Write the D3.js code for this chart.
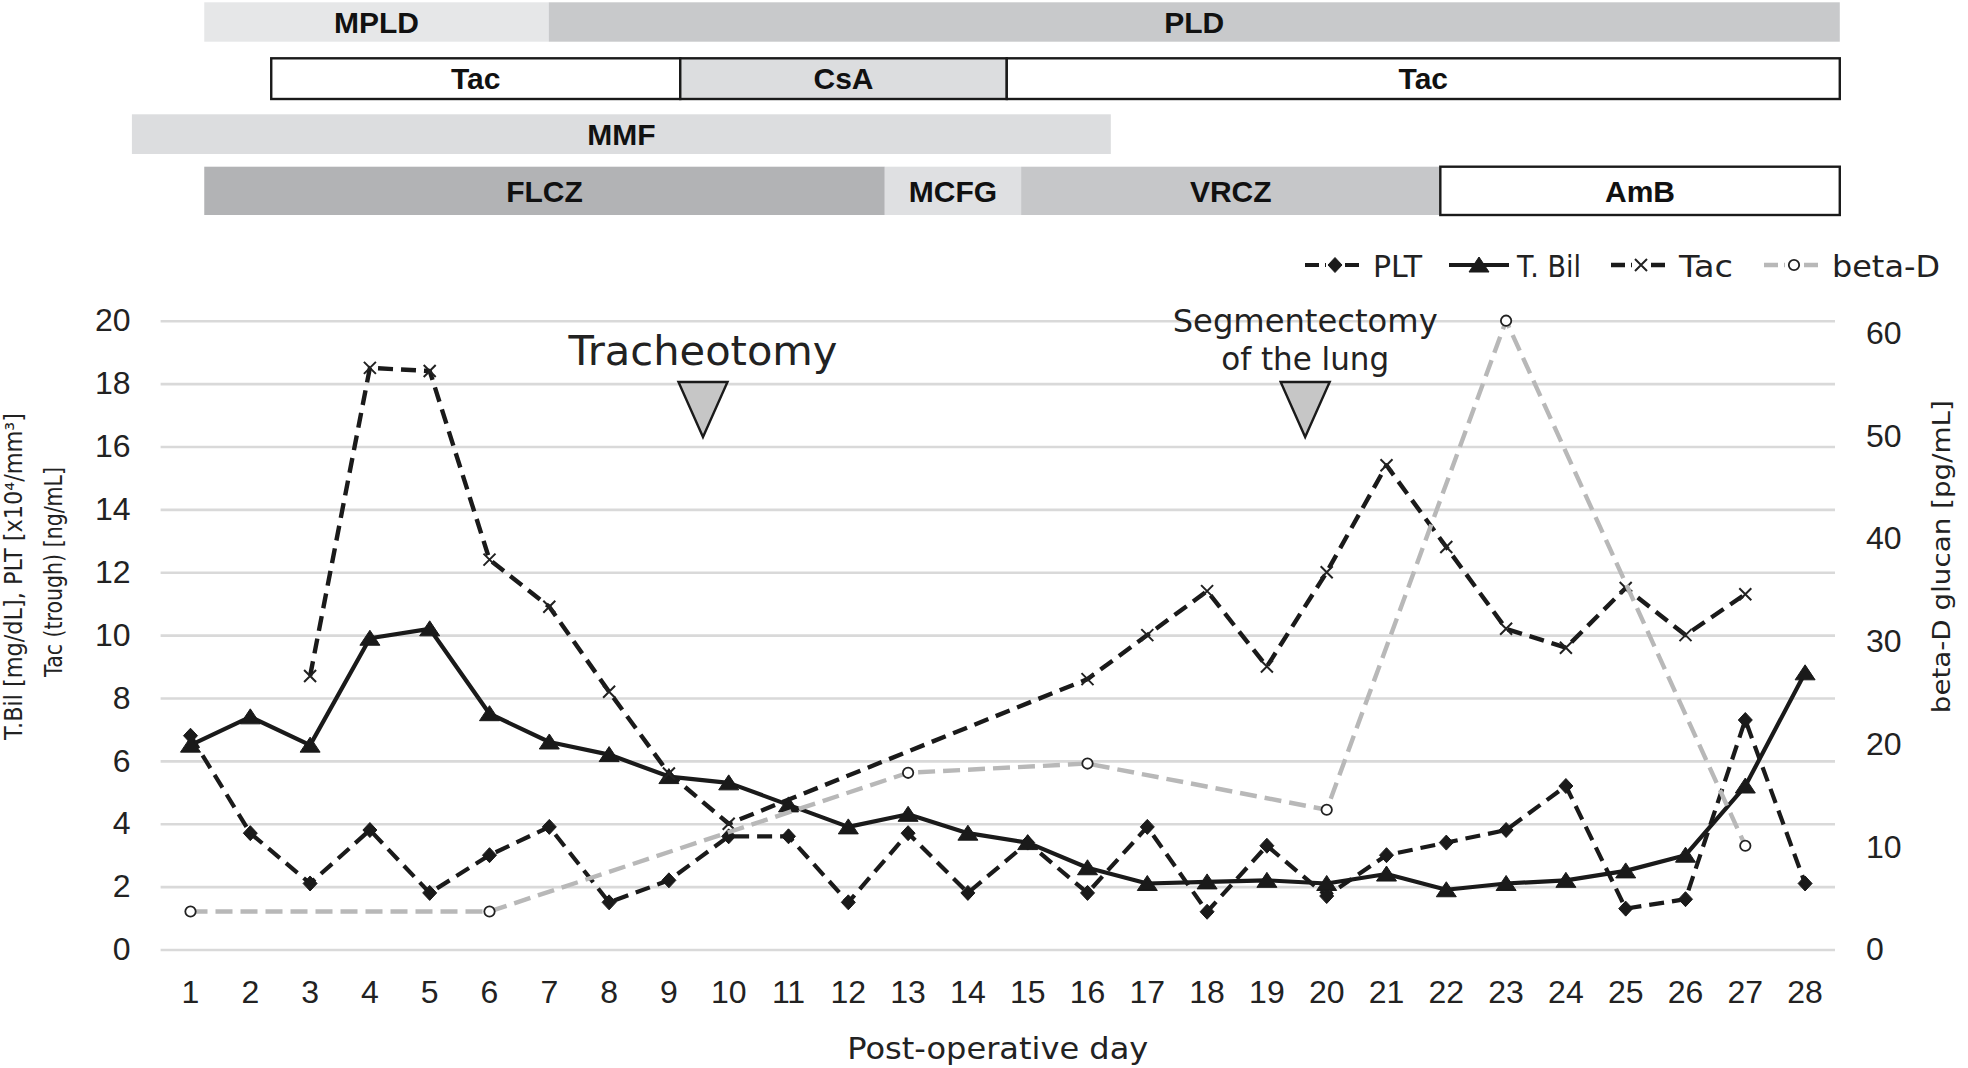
<!DOCTYPE html>
<html><head><meta charset="utf-8">
<script src="https://cdn.jsdelivr.net/npm/d3@7"></script>
<style>
html,body{margin:0;padding:0;background:#fff;}
svg{display:block;}
</style></head>
<body>
<svg id="chart" width="1968" height="1068"></svg>
<script>
// ---------- DATA ----------
const days = ["1","2","3","4","5","6","7","8","9","10","11","12","13","14","15","16","17","18","19","20","21","22","23","24","25","26","27","28"];
const plt  = [6.8,3.7,2.1,3.8,1.8,3.0,3.9,1.5,2.2,3.6,3.6,1.5,3.7,1.8,3.4,1.8,3.9,1.2,3.3,1.7,3.0,3.4,3.8,5.2,1.3,1.6,7.3,2.1];
const tbil = [6.5,7.4,6.5,9.9,10.2,7.5,6.6,6.2,5.5,5.3,4.6,3.9,4.3,3.7,3.4,2.6,2.1,2.15,2.2,2.1,2.4,1.9,2.1,2.2,2.5,3.0,5.2,8.8];
const tac  = [null,null,8.7,18.5,18.4,12.4,10.9,8.2,5.6,4.0,null,null,null,null,null,8.6,10.0,11.4,9.0,12.0,15.4,12.8,10.2,9.6,11.5,10.0,11.3,null];
const betaD= [3.7,null,null,null,null,3.7,null,null,null,null,null,null,17.2,null,null,18.1,null,null,null,13.6,null,null,61.2,null,null,null,10.1,null];
const leftTicks  = [0,2,4,6,8,10,12,14,16,18,20];
const rightTicks = [0,10,20,30,40,50,60];
const seriesNames = ["PLT","T. Bil","Tac","beta-D"];
const xTitle = "Post-operative day";
const yLeftTitle = ["T.Bil [mg/dL], PLT [x10\u2074/mm\u00B3]","Tac (trough) [ng/mL]"];
const yRightTitle = "beta-D glucan [pg/mL]";
// treatment periods (in post-operative day units)
const rowImmuno1 = [{label:"MPLD",start:1.23,end:6.99},{label:"PLD",start:6.99,end:28.58}];
const rowImmuno2 = [{label:"Tac",start:2.35,end:9.19},{label:"CsA",start:9.19,end:14.65},{label:"Tac",start:14.65,end:28.58}];
const rowImmuno3 = [{label:"MMF",start:0.02,end:16.39}];
const rowAntifungal = [{label:"FLCZ",start:1.23,end:12.61},{label:"MCFG",start:12.61,end:14.89},{label:"VRCZ",start:14.89,end:21.9},{label:"AmB",start:21.9,end:28.58}];
const eventLabels = [["Tracheotomy"],["Segmentectomy","of the lung"]];
const eventDays = [9.57,19.64];

// ---------- LAYOUT / STYLE ----------
const M = {left:160.6, right:1835, top:320.7, bottom:949.5};
const numFont = "'Liberation Sans', Arial, sans-serif";
const wordFont = "'DejaVu Sans', sans-serif";
const boldFont = "'Liberation Sans', Arial, sans-serif";
const svg = d3.select("#chart");

const x = d3.scaleBand().domain(days).range([M.left, M.right]);
const xc = d => x(d) + x.bandwidth()/2;
const xDay = d3.scaleLinear().domain([0.5, 28.5]).range([M.left, M.right]);
const yL = d3.scaleLinear().domain([0,20]).range([M.bottom, M.top]);
const yR = d3.scaleLinear().domain([0,61.2]).range([M.bottom, M.top]);

// ---------- Treatment bars ----------
const rows = [
  {segs:rowImmuno1, y0:2.3, y1:41.7},
  {segs:rowImmuno2, y0:58.3, y1:99},
  {segs:rowImmuno3, y0:114.3, y1:154},
  {segs:rowAntifungal, y0:166.7, y1:215}
];
const fillOf = {"MPLD":"#e6e7e8","PLD":"#c8c9cb","Tac":"#ffffff","CsA":"#dcdddf","MMF":"#dcdddf","FLCZ":"#b2b3b5","MCFG":"#dfe0e2","VRCZ":"#c6c7c9","AmB":"#ffffff"};
const boxed = new Set(["Tac","CsA","AmB"]);
const gBars = svg.append("g");
rows.forEach(r => {
  const g = gBars.append("g");
  g.selectAll("rect").data(r.segs).join("rect")
    .attr("x", d => xDay(d.start)).attr("y", r.y0)
    .attr("width", d => xDay(d.end) - xDay(d.start)).attr("height", r.y1 - r.y0)
    .attr("fill", d => fillOf[d.label])
    .attr("stroke", d => boxed.has(d.label) ? "#1a1a1a" : "none")
    .attr("stroke-width", 2.4);
  g.selectAll("text").data(r.segs).join("text")
    .attr("x", d => (xDay(d.start) + xDay(d.end))/2)
    .attr("y", (r.y0 + r.y1)/2 + 10.8)
    .attr("text-anchor","middle")
    .attr("font-family", boldFont).attr("font-weight","bold").attr("font-size", 30)
    .attr("fill","#111")
    .text(d => d.label);
});

// ---------- Gridlines + axes ----------
const gL = svg.append("g").attr("transform", `translate(${M.left},0)`)
  .call(d3.axisLeft(yL).tickValues(leftTicks).tickSize(-(M.right - M.left)).tickPadding(30));
gL.select(".domain").remove();
gL.selectAll(".tick line").attr("stroke","#d9d9d9").attr("stroke-width",2.6);
gL.selectAll(".tick text").attr("font-family",numFont).attr("font-size",32).attr("fill","#222");

const gR = svg.append("g").attr("transform", `translate(${M.right},0)`)
  .call(d3.axisRight(yR).tickValues(rightTicks).tickSize(0).tickPadding(31));
gR.select(".domain").remove();
gR.selectAll(".tick text").attr("font-family",numFont).attr("font-size",32).attr("fill","#222");

const gX = svg.append("g").attr("transform", `translate(0,${M.bottom})`)
  .call(d3.axisBottom(x).tickSize(0).tickPadding(30.5));
gX.select(".domain").remove();
gX.selectAll(".tick text").attr("font-family",numFont).attr("font-size",32).attr("fill","#222");

// ---------- Axis titles ----------
svg.append("text").attr("x",(M.left+M.right)/2).attr("y",1059)
  .attr("text-anchor","middle").attr("font-family",wordFont).attr("font-size",31)
  .attr("textLength",301).attr("lengthAdjust","spacingAndGlyphs").attr("fill","#222").text(xTitle);
const leftTitlePos = [{x:22,y:576.5,len:327},{x:62,y:572,len:210}];
yLeftTitle.forEach((t,i) => {
  svg.append("text").attr("transform",`translate(${leftTitlePos[i].x},${leftTitlePos[i].y}) rotate(-90)`)
    .attr("text-anchor","middle").attr("font-family",wordFont).attr("font-size",24)
    .attr("textLength",leftTitlePos[i].len).attr("lengthAdjust","spacingAndGlyphs")
    .attr("fill","#222").text(t);
});
svg.append("text").attr("transform","translate(1950,556.7) rotate(-90)")
  .attr("text-anchor","middle").attr("font-family",wordFont).attr("font-size",24)
  .attr("textLength",313).attr("lengthAdjust","spacingAndGlyphs").attr("fill","#222").text(yRightTitle);

// ---------- Events ----------
const evStyle = [{size:40, baselines:[365], lens:[269]},{size:32, baselines:[331.7,370], lens:[265,168]}];
eventLabels.forEach((lines,i) => {
  const cx = xDay(eventDays[i]);
  lines.forEach((t,j) => {
    svg.append("text").attr("x",cx).attr("y",evStyle[i].baselines[j])
      .attr("text-anchor","middle").attr("font-family",wordFont).attr("font-size",evStyle[i].size)
      .attr("textLength",evStyle[i].lens[j]).attr("lengthAdjust","spacingAndGlyphs")
      .attr("fill","#222").text(t);
  });
  svg.append("path").attr("d",`M${cx-24.5},382 L${cx+24.5},382 L${cx},437 Z`)
    .attr("fill","#c6c6c6").attr("stroke","#1a1a1a").attr("stroke-width",2.4).attr("stroke-linejoin","miter");
});

// ---------- Series ----------
const markerPath = {
  diamond: "M0,-7.5L7,0L0,7.5L-7,0Z",
  triangle: "M0,-8L10,7L-10,7Z",
  cross: "M-6,-6L6,6M-6,6L6,-6"
};
const series = [
  {name:seriesNames[0], vals:plt,  y:yL, color:"#1a1a1a", width:4.2, dash:"15,8", marker:"diamond"},
  {name:seriesNames[1], vals:tbil, y:yL, color:"#1a1a1a", width:4.2, dash:null,   marker:"triangle"},
  {name:seriesNames[2], vals:tac,  y:yL, color:"#1a1a1a", width:4.4, dash:"15,8", marker:"cross"},
  {name:seriesNames[3], vals:betaD,y:yR, color:"#b8b8b8", width:4.4, dash:"17,8", marker:"circle"}
];
function drawMarker(g, type, color) {
  if (type === "circle") {
    g.append("circle").attr("r",5.2).attr("fill","#fff").attr("stroke","#222").attr("stroke-width",1.8);
  } else if (type === "cross") {
    g.append("path").attr("d",markerPath.cross).attr("stroke","#222").attr("stroke-width",2).attr("fill","none");
  } else {
    g.append("path").attr("d",markerPath[type]).attr("fill",color).attr("stroke",color).attr("stroke-width",1);
  }
}
series.forEach(s => {
  const pts = days.map((d,i) => ({d, v:s.vals[i]})).filter(p => p.v !== null);
  const line = d3.line().x(p => xc(p.d)).y(p => s.y(p.v));
  svg.append("path").datum(pts).attr("d",line).attr("fill","none")
    .attr("stroke",s.color).attr("stroke-width",s.width)
    .attr("stroke-dasharray", s.dash).attr("stroke-linejoin","round");
  const gm = svg.append("g");
  pts.forEach(p => {
    const g = gm.append("g").attr("transform",`translate(${xc(p.d)},${s.y(p.v)})`);
    drawMarker(g, s.marker, "#1a1a1a");
  });
});

// ---------- Legend ----------
const legStart = [1305,1449,1611,1764];
const legTextLen = [49,64,54,108];
series.forEach((s,i) => {
  const g = svg.append("g").attr("transform",`translate(${legStart[i]},265)`);
  g.append("line").attr("x1",0).attr("x2",60).attr("y1",0).attr("y2",0)
    .attr("stroke",s.color).attr("stroke-width",s.width)
    .attr("stroke-dasharray", s.dash ? "14,6" : null);
  const gm = g.append("g").attr("transform","translate(30,0)");
  if (s.dash) gm.append("rect").attr("x",-9).attr("y",-4).attr("width",18).attr("height",8).attr("fill","#fff");
  drawMarker(gm, s.marker, "#1a1a1a");
  g.append("text").attr("x",68).attr("y",11.5).attr("font-family",wordFont).attr("font-size",30)
    .attr("textLength",legTextLen[i]).attr("lengthAdjust","spacingAndGlyphs")
    .attr("fill","#222").text(s.name);
});
</script>
</body></html>
